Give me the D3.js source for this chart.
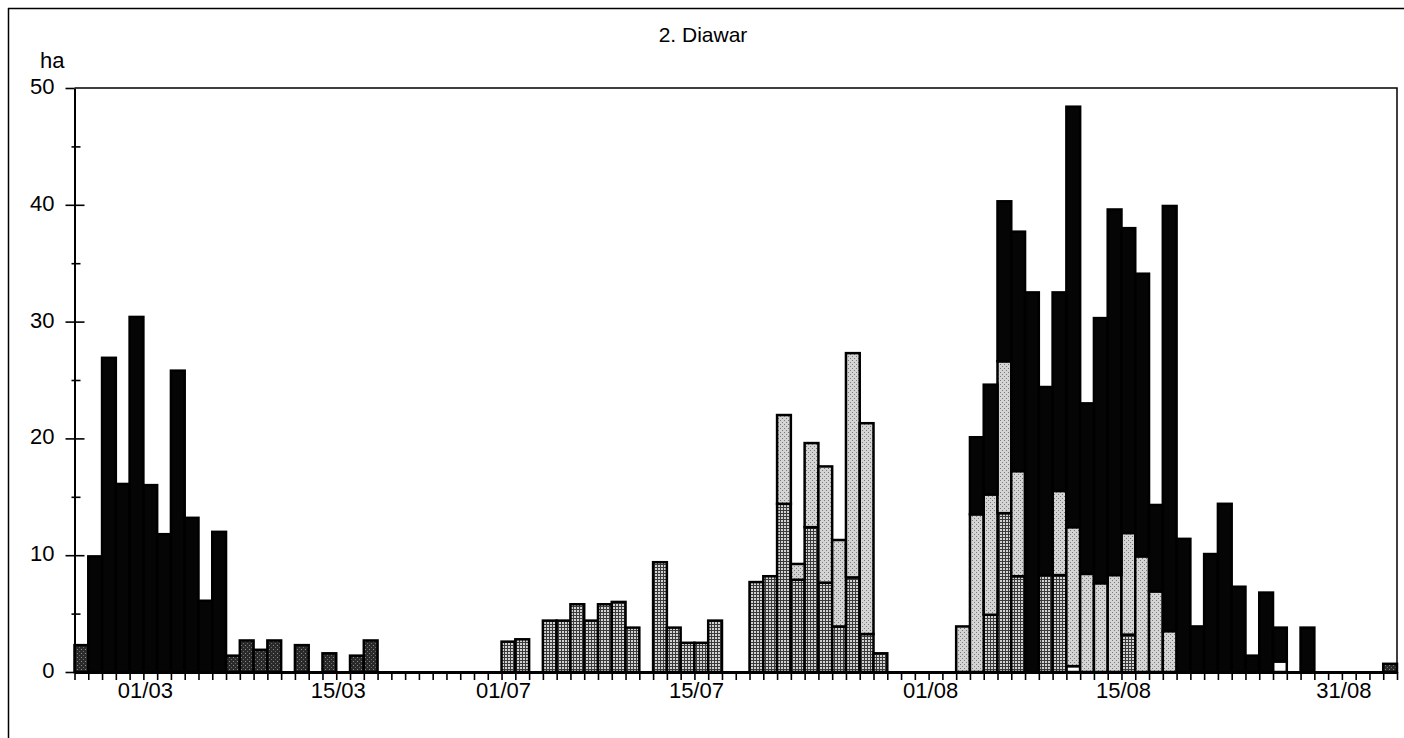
<!DOCTYPE html>
<html><head><meta charset="utf-8">
<script src="https://cdn.jsdelivr.net/npm/d3@7"></script>
<style>
body{margin:0;background:#fff}
svg{display:block}
text{font-family:"Liberation Sans",Arial,sans-serif;fill:#000}
</style>
</head><body>
<svg id="chart" width="1404" height="738"></svg>
<script>
// ---- data ----
const title = "2. Diawar";
const yUnit = "ha";
const days = ("24/02 25/02 26/02 27/02 28/02 01/03 02/03 03/03 04/03 05/03 06/03 07/03 08/03 09/03 10/03 11/03 12/03 13/03 14/03 15/03 16/03 17/03 18/03 19/03 20/03 21/03 22/03 23/03 24/03 25/03 26/03 " +
  "01/07 02/07 03/07 04/07 05/07 06/07 07/07 08/07 09/07 10/07 11/07 12/07 13/07 14/07 15/07 16/07 17/07 18/07 19/07 20/07 21/07 22/07 23/07 24/07 25/07 26/07 27/07 28/07 29/07 30/07 31/07 " +
  "01/08 02/08 03/08 04/08 05/08 06/08 07/08 08/08 09/08 10/08 11/08 12/08 13/08 14/08 15/08 16/08 17/08 18/08 19/08 20/08 21/08 22/08 23/08 24/08 25/08 26/08 27/08 28/08 29/08 30/08 31/08 01/09 02/09 03/09").split(" ");
const xTickLabels = ["01/03","15/03","01/07","15/07","01/08","15/08","31/08"];
const yTicks = [0,10,20,30,40,50];
const yMinorTicks = [5,15,25,35,45];

const seriesWhite = [
  0,0,0,0,0,0,0,0,0,0, 0,0,0,0,0,0,0,0,0,0, 0,0,0,0,0,0,0,0,0,0,
  0,0,0,0,0,0,0,0,0,0, 0,0,0,0,0,0,0,0,0,0, 0,0,0,0,0,0,0,0,0,0,
  0,0,0,0,0,0,0,0,0,0, 0,0,0.5,0,0,0,0,0,0,0, 0,0,0,0,0,0,0,0.9,0,0,
  0,0,0,0,0,0];
const seriesGrid = [
  0,0,0,0,0,0,0,0,0,0, 0,0,0,0,0,0,0,0,0,0, 0,0,0,0,0,0,0,0,0,0,
  0,2.6,2.8,0,4.4,4.4,5.8,4.4,5.8,6.0, 3.8,0,9.4,3.8,2.5,2.5,4.4,0,0,7.7,
  8.2,14.4,7.9,12.4,7.65,3.9,8.1,3.25,1.6,0, 0,0,0,0,0,0,4.9,13.6,8.2,0,
  8.3,8.3,0,0,0,0,3.2,0,0,0, 0,0,0,0,0,0,0,0,0,0, 0,0,0,0,0,0];
const seriesLight = [
  0,0,0,0,0,0,0,0,0,0, 0,0,0,0,0,0,0,0,0,0, 0,0,0,0,0,0,0,0,0,0,
  0,0,0,0,0,0,0,0,0,0, 0,0,0,0,0,0,0,0,0,0,
  0,7.6,1.35,7.2,9.95,7.4,19.2,18.05,0,0, 0,0,0,0,3.9,13.5,10.3,13.0,9.0,0,
  0,7.2,11.9,8.4,7.6,8.3,8.7,9.9,6.9,3.5, 0,0,0,0,0,0,0,0,0,0, 0,0,0,0,0,0];
const seriesDark = [
  2.3,0,0,0,0,0,0,0,0,0, 0,1.4,2.7,1.9,2.7,0,2.3,0,1.6,0, 1.4,2.7,0,0,0,0,0,0,0,0,
  0,0,0,0,0,0,0,0,0,0, 0,0,0,0,0,0,0,0,0,0, 0,0,0,0,0,0,0,0,0,0,
  0,0,0,0,0,0,0,0,0,0, 0,0,0,0,0,0,0,0,0,0, 0,0,0,0,0,0,0,0,0,0,
  0,0,0,0,0,0.7];
const seriesBlack = [
  0,9.9,26.9,16.1,30.4,16.0,11.8,25.8,13.2,6.1, 12.0,0,0,0,0,0,0,0,0,0, 0,0,0,0,0,0,0,0,0,0,
  0,0,0,0,0,0,0,0,0,0, 0,0,0,0,0,0,0,0,0,0, 0,0,0,0,0,0,0,0,0,0,
  0,0,0,0,0,6.6,9.4,13.7,20.5,32.5, 16.1,17.0,36.0,14.6,22.7,31.3,26.1,24.2,7.4,36.4,
  11.4,3.9,10.1,14.4,7.3,1.4,6.8,2.9,0,3.8, 0,0,0,0,0,0];

const seriesKeys = ["white","grid","light","dark","black"];
const seriesValues = {white:seriesWhite, grid:seriesGrid, light:seriesLight, dark:seriesDark, black:seriesBlack};

// ---- build ----
const svg = d3.select("#chart");
const W = 1404, H = 738;
const plot = {left:74.5, right:1397, top:88, bottom:672};

const defs = svg.append("defs");
// grid (cross-hatch)
const pg = defs.append("pattern").attr("id","p-grid").attr("patternUnits","userSpaceOnUse").attr("width",3).attr("height",3);
pg.append("rect").attr("width",3).attr("height",3).attr("fill","#d2d2d2");
pg.append("path").attr("d","M0 0.5H3M0.5 0V3").attr("stroke","#3a3a3a").attr("stroke-width",1);
// light stipple
const pl = defs.append("pattern").attr("id","p-light").attr("patternUnits","userSpaceOnUse").attr("width",4).attr("height",4);
pl.append("rect").attr("width",4).attr("height",4).attr("fill","#d4d4d4");
pl.append("rect").attr("x",0).attr("y",0).attr("width",1).attr("height",1).attr("fill","#7a7a7a");
pl.append("rect").attr("x",2).attr("y",2).attr("width",1).attr("height",1).attr("fill","#7a7a7a");
// dark stipple
const pd = defs.append("pattern").attr("id","p-dark").attr("patternUnits","userSpaceOnUse").attr("width",4).attr("height",4);
pd.append("rect").attr("width",4).attr("height",4).attr("fill","#2a2a2a");
pd.append("rect").attr("x",1).attr("y",1).attr("width",1).attr("height",1).attr("fill","#8c8c8c");
pd.append("rect").attr("x",3).attr("y",3).attr("width",1).attr("height",1).attr("fill","#6a6a6a");

const fills = {white:"#ffffff", grid:"url(#p-grid)", light:"url(#p-light)", dark:"url(#p-dark)", black:"#050505"};

const table = days.map((d,i) => {
  const row = {day:d};
  seriesKeys.forEach(k => row[k] = seriesValues[k][i]);
  return row;
});

const x = d3.scaleBand().domain(days).range([plot.left, plot.right]).padding(0);
const xi = d3.scaleLinear().domain([0, days.length]).range([plot.left, plot.right]);
const y = d3.scaleLinear().domain([0, 50]).range([plot.bottom, plot.top]);

const stacked = d3.stack().keys(seriesKeys)(table);

// outer frame lines
svg.append("line").attr("x1",8).attr("x2",W).attr("y1",8.5).attr("y2",8.5).attr("stroke","#000").attr("stroke-width",1.5);
svg.append("line").attr("x1",8.5).attr("x2",8.5).attr("y1",8).attr("y2",H).attr("stroke","#000").attr("stroke-width",1.5);

// plot frame (top and right)
svg.append("path")
  .attr("d",`M${plot.left},${plot.top}H${plot.right}V${plot.bottom}`)
  .attr("fill","none").attr("stroke","#000").attr("stroke-width",1.5);

// bars
const gBars = svg.append("g");
stacked.forEach(layer => {
  gBars.append("g").selectAll("rect")
    .data(layer.filter(d => d[1] - d[0] > 0))
    .join("rect")
    .attr("x", d => x(d.data.day))
    .attr("width", x.bandwidth())
    .attr("y", d => y(d[1]))
    .attr("height", d => y(d[0]) - y(d[1]))
    .attr("fill", fills[layer.key])
    .attr("stroke","#000")
    .attr("stroke-width",2.5);
});

// x axis (ticks at day boundaries)
const gx = svg.append("g").attr("transform",`translate(0,${plot.bottom})`)
  .call(d3.axisBottom(xi).tickValues(d3.range(days.length + 1)).tickFormat("").tickSize(8).tickSizeOuter(0));
gx.select(".domain").attr("stroke","#000").attr("stroke-width",3);
gx.selectAll(".tick line").attr("stroke","#000").attr("stroke-width",1.6);

svg.append("g").selectAll("text")
  .data(xTickLabels)
  .join("text")
  .attr("x", d => x(d) + 2)
  .attr("y", 698)
  .attr("text-anchor","middle")
  .attr("font-size",22)
  .text(d => d);

// y axis
const gy = svg.append("g").attr("transform",`translate(${plot.left},0)`)
  .call(d3.axisLeft(y).tickValues(yTicks).tickFormat(d3.format("d")).tickSize(9).tickSizeOuter(0).tickPadding(11));
gy.select(".domain").attr("stroke","#000").attr("stroke-width",2);
gy.selectAll(".tick line").attr("stroke","#000").attr("stroke-width",1.6);
gy.selectAll(".tick text").attr("font-size",22).attr("font-family","Liberation Sans, Arial, sans-serif").attr("dy","0.25em");

const gy2 = svg.append("g").attr("transform",`translate(${plot.left},0)`)
  .call(d3.axisRight(y).tickValues(yTicks.slice(0,-1)).tickFormat("").tickSize(10).tickSizeOuter(0));
gy2.select(".domain").remove();
gy2.selectAll(".tick line").attr("stroke","#000").attr("stroke-width",1.6);

const gy3 = svg.append("g").attr("transform",`translate(${plot.left - 3},0)`)
  .call(d3.axisRight(y).tickValues(yMinorTicks).tickFormat("").tickSize(9).tickSizeOuter(0));
gy3.select(".domain").remove();
gy3.selectAll(".tick line").attr("stroke","#000").attr("stroke-width",1.6);

// titles
svg.append("text").attr("x",703).attr("y",42).attr("text-anchor","middle").attr("font-size",21).text(title);
svg.append("text").attr("x",40).attr("y",68).attr("font-size",22).text(yUnit);
</script>
</body></html>
